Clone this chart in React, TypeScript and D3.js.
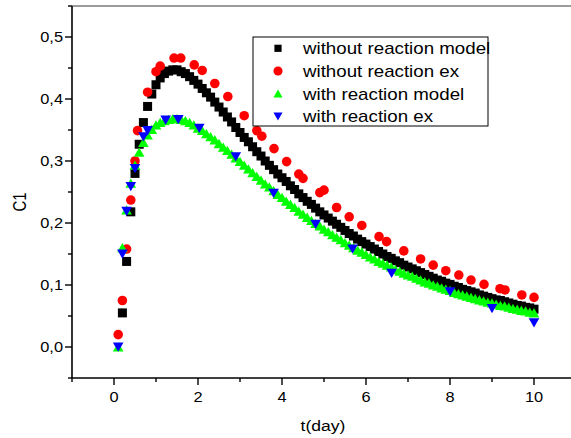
import React from "react";
import * as d3 from "d3";

// ---- data ----
// model series: one value every 0.1 day
const BLACK_T0 = 0.2; // first model time for "without reaction model"
const withoutModel = [
  0.055, 0.138, 0.218, 0.280, 0.327, 0.362, 0.388, 0.408, 0.423, 0.434,
  0.441, 0.445, 0.447, 0.447, 0.444, 0.441, 0.436, 0.430, 0.424, 0.417,
  0.410, 0.403, 0.395, 0.387, 0.379, 0.371, 0.363, 0.354, 0.346, 0.338,
  0.331, 0.323, 0.315, 0.308, 0.300, 0.293, 0.286, 0.279, 0.273, 0.267,
  0.260, 0.254, 0.247, 0.241, 0.235, 0.230, 0.224, 0.218, 0.213, 0.208,
  0.203, 0.198, 0.193, 0.188, 0.183, 0.179, 0.174, 0.170, 0.166, 0.162,
  0.158, 0.154, 0.150, 0.146, 0.143, 0.139, 0.136, 0.132, 0.129, 0.126,
  0.123, 0.120, 0.117, 0.114, 0.111, 0.108, 0.106, 0.103, 0.101, 0.098,
  0.096, 0.093, 0.091, 0.089, 0.087, 0.084, 0.082, 0.080, 0.078, 0.076,
  0.075, 0.073, 0.071, 0.069, 0.067, 0.066, 0.064, 0.063, 0.061,
];
const GREEN_T0 = 0.1;
const withModel = [
  0.000, 0.160, 0.221, 0.264, 0.293, 0.314, 0.330, 0.342, 0.351, 0.358,
  0.362, 0.365, 0.367, 0.368, 0.368, 0.367, 0.365, 0.362, 0.358, 0.353,
  0.349, 0.344, 0.339, 0.334, 0.328, 0.322, 0.317, 0.311, 0.305, 0.299,
  0.293, 0.287, 0.281, 0.275, 0.269, 0.263, 0.258, 0.252, 0.246, 0.241,
  0.235, 0.230, 0.225, 0.219, 0.214, 0.209, 0.204, 0.199, 0.195, 0.190,
  0.186, 0.181, 0.177, 0.173, 0.168, 0.164, 0.160, 0.156, 0.153, 0.149,
  0.145, 0.142, 0.138, 0.135, 0.132, 0.129, 0.125, 0.122, 0.119, 0.116,
  0.114, 0.111, 0.108, 0.105, 0.103, 0.100, 0.098, 0.095, 0.093, 0.091,
  0.088, 0.086, 0.084, 0.082, 0.080, 0.078, 0.076, 0.074, 0.072, 0.071,
  0.069, 0.067, 0.066, 0.064, 0.062, 0.061, 0.059, 0.058, 0.056, 0.055,
];
const MODEL_STEP = 0.1;

const withoutExT = [
  0.1, 0.2, 0.3, 0.4, 0.5, 0.56, 0.8, 1.0, 1.1, 1.43, 1.59, 1.91, 2.1, 2.4,
  2.71, 3.1, 3.4, 3.52, 3.81, 4.11, 4.4, 4.5, 4.9, 5.0, 5.3, 5.6, 5.9, 6.31,
  6.49, 6.9, 7.3, 7.6, 7.9, 8.21, 8.5, 8.81, 9.19, 9.31, 9.71, 10.0,
];
const withoutExC = [
  0.020, 0.075, 0.158, 0.237, 0.300, 0.349, 0.411, 0.444, 0.453, 0.466, 0.466,
  0.455, 0.446, 0.425, 0.404, 0.373, 0.349, 0.340, 0.320, 0.299, 0.279, 0.272,
  0.249, 0.253, 0.225, 0.210, 0.196, 0.178, 0.170, 0.155, 0.142, 0.132, 0.123,
  0.116, 0.108, 0.101, 0.094, 0.092, 0.084, 0.080,
];
const withExT = [
  0.1, 0.2, 0.3, 0.4, 0.5, 0.7, 0.8, 1.23, 1.53, 2.03, 2.9, 3.8, 4.8, 5.68,
  6.61, 8.0, 9.0, 10.0,
];
const withExC = [
  0.0, 0.150, 0.219, 0.259, 0.288, 0.339, 0.349, 0.366, 0.367, 0.353, 0.307,
  0.248, 0.198, 0.158, 0.119, 0.089, 0.062, 0.039,
];

const xMajor = [0, 2, 4, 6, 8, 10];
const xMinor = [-1, 1, 3, 5, 7, 9, 11];
const yMajor = [0, 0.1, 0.2, 0.3, 0.4, 0.5];
const yMinor = [-0.05, 0.05, 0.15, 0.25, 0.35, 0.45, 0.55];
const legendLabels = [
  "without reaction model",
  "without reaction ex",
  "with reaction model",
  "with reaction ex",
];

// ---- layout ----
const W = 571;
const H = 438;
const FONT = "'Liberation Sans', Arial, sans-serif";
const SX = 1.17;

const x = d3.scaleLinear().domain([-1, 11]).range([72, 576]);
const y = d3.scaleLinear().domain([-0.05, 0.55]).range([378, 6]);

const squarePath = d3.symbol(d3.symbolSquare, 81)() as string;
const circlePath = d3.symbol(d3.symbolCircle, 72)() as string;
const triUp = "M0,-4.8L5.3,4.5L-5.3,4.5Z";
const triDown = "M0,4.8L5.3,-4.5L-5.3,-4.5Z";

function ST(props: {
  x: number;
  y: number;
  size: number;
  anchor?: string;
  rotate?: boolean;
  children: React.ReactNode;
}) {
  const t = `translate(${props.x},${props.y}) scale(${SX},1)${props.rotate ? " rotate(-90)" : ""}`;
  return (
    <text
      transform={t}
      fontSize={props.size}
      fontFamily={FONT}
      textAnchor={props.anchor || "start"}
      fill="#000"
    >
      {props.children}
    </text>
  );
}

export default function App() {
  const black = withoutModel.map((c, i) => [BLACK_T0 + i * MODEL_STEP, c]);
  const green = withModel.map((c, i) => [GREEN_T0 + i * MODEL_STEP, c]);
  const red = withoutExT.map((t, i) => [t, withoutExC[i]]);
  const blue = withExT.map((t, i) => [t, withExC[i]]);

  const x0 = x.range()[0];
  const y0 = y.range()[0];
  const yTop = y.range()[1];

  const legendItems = [
    { path: squarePath, color: "#000000", scale: 0.8 },
    { path: circlePath, color: "#ff0000", scale: 0.95 },
    { path: triUp, color: "#00ff00", scale: 0.85 },
    { path: triDown, color: "#0000ff", scale: 0.85 },
  ];

  return (
    <svg
      width={W}
      height={H}
      style={{ position: "absolute", left: 0, top: 0, background: "#fff" }}
    >
      <rect x={0} y={0} width={W} height={H} fill="#fff" />

      {/* series */}
      <g>
        {black.map(([t, c], i) => (
          <path key={"b" + i} d={squarePath} transform={`translate(${x(t)},${y(c)})`} fill="#000" />
        ))}
        {red.map(([t, c], i) => (
          <path key={"r" + i} d={circlePath} transform={`translate(${x(t)},${y(c)})`} fill="#ff0000" />
        ))}
        {green.map(([t, c], i) => (
          <path key={"g" + i} d={triUp} transform={`translate(${x(t)},${y(c)})`} fill="#00ff00" />
        ))}
        {blue.map(([t, c], i) => (
          <path key={"u" + i} d={triDown} transform={`translate(${x(t)},${y(c)})`} fill="#0000ff" />
        ))}
      </g>

      {/* top frame */}
      <line x1={x0} x2={W} y1={yTop} y2={yTop} stroke="#7a7a7a" strokeWidth={1.6} />

      {/* axes */}
      <line x1={x0} x2={W} y1={y0} y2={y0} stroke="#000" strokeWidth={1.6} />
      <line x1={x0} x2={x0} y1={yTop} y2={y0} stroke="#000" strokeWidth={1.6} />

      {xMajor.map((v) => (
        <g key={"xm" + v}>
          <line x1={x(v)} x2={x(v)} y1={y0} y2={y0 + 7} stroke="#000" strokeWidth={1.4} />
          <ST x={x(v)} y={402} size={14} anchor="middle">{String(v)}</ST>
        </g>
      ))}
      {xMinor.map((v) => (
        <line key={"xn" + v} x1={x(v)} x2={x(v)} y1={y0} y2={y0 + 4} stroke="#000" strokeWidth={1.4} />
      ))}
      {yMajor.map((v) => (
        <g key={"ym" + v}>
          <line x1={x0 - 7} x2={x0} y1={y(v)} y2={y(v)} stroke="#000" strokeWidth={1.4} />
          <ST x={63} y={y(v) + 5} size={14} anchor="end">{v.toFixed(1).replace(".", ",")}</ST>
        </g>
      ))}
      {yMinor.map((v) => (
        <line key={"yn" + v} x1={x0 - 4} x2={x0} y1={y(v)} y2={y(v)} stroke="#000" strokeWidth={1.4} />
      ))}

      {/* axis titles */}
      <ST x={323} y={431} size={15} anchor="middle">t(day)</ST>
      <ST x={26} y={202} size={15} anchor="middle" rotate>C1</ST>

      {/* legend */}
      <rect x={253} y={37} width={235} height={89} fill="#fff" stroke="#000" strokeWidth={1} />
      {legendItems.map((it, i) => {
        const cy = 48.3 + i * 22.7;
        return (
          <g key={"lg" + i}>
            <path d={it.path} transform={`translate(278,${cy}) scale(${it.scale})`} fill={it.color} />
            <ST x={303} y={cy + 6} size={16}>{legendLabels[i]}</ST>
          </g>
        );
      })}
    </svg>
  );
}
